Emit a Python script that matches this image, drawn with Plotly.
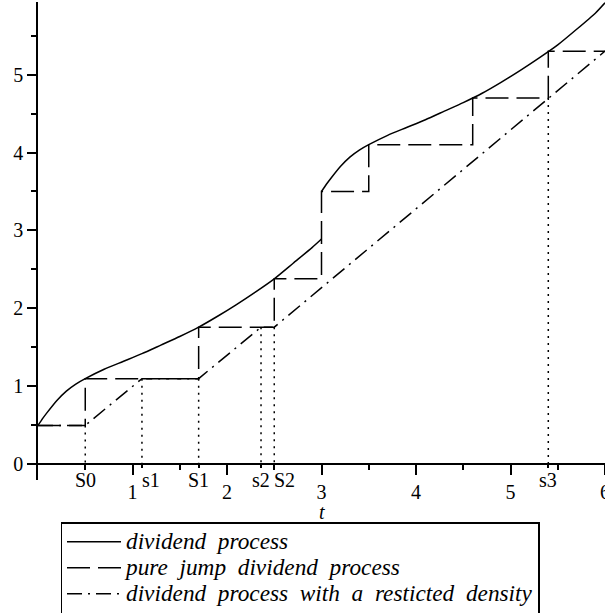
import plotly.graph_objects as go

# ---- data ----
# continuous dividend process, first piece (0 <= t < 3)
t_div1 = [0, 0.05, 0.1, 0.2, 0.3, 0.4, 0.5, 0.7, 0.9, 1.1, 1.3, 1.5, 1.7, 1.9, 2.1, 2.3, 2.5, 2.7, 2.9, 3.0]
d_div1 = [0.50, 0.59, 0.67, 0.82, 0.94, 1.03, 1.10, 1.22, 1.32, 1.42, 1.53, 1.64, 1.76, 1.90, 2.05, 2.21, 2.38, 2.58, 2.78, 2.89]
# second piece (3 <= t <= 6)
t_div2 = [3.0, 3.05, 3.1, 3.2, 3.3, 3.4, 3.5, 3.7, 3.9, 4.1, 4.3, 4.5, 4.7, 4.9, 5.1, 5.3, 5.5, 5.7, 5.9, 6.0]
d_div2 = [3.50, 3.59, 3.67, 3.82, 3.94, 4.03, 4.10, 4.22, 4.32, 4.42, 4.53, 4.64, 4.76, 4.90, 5.05, 5.21, 5.38, 5.58, 5.79, 5.92]

# pure jump dividend process (step path)
t_jump = [0, 0.5, 0.5, 1.7, 1.7, 2.5, 2.5, 3.0, 3.0, 3.5, 3.5, 4.6, 4.6, 5.4, 5.4, 6.0]
d_jump = [0.5, 0.5, 1.1, 1.1, 1.76, 1.76, 2.38, 2.38, 3.5, 3.5, 4.1, 4.1, 4.7, 4.7, 5.3, 5.3]

# dividend process with a restricted density
t_rd = [0, 0.5, 1.1, 1.7, 2.36, 2.5, 6.0]
d_rd = [0.5, 0.5, 1.1, 1.1, 1.76, 1.76, 5.3]

# special times marked on the t axis, with the level where the dotted drop starts
mark_t = [0.5, 1.1, 1.7, 2.36, 2.5, 5.4]
mark_level = [0.5, 1.1, 1.1, 1.76, 1.76, 4.7]
mark_labels = ["S0", "s1", "S1", "s2", "S2", "s3"]

x_ticks = [1, 2, 3, 4, 5, 6]
x_tick_labels = ["1", "2", "3", "4", "5", "6"]
y_ticks = [0, 1, 2, 3, 4, 5]
y_tick_labels = ["0", "1", "2", "3", "4", "5"]

series_names = ["dividend process", "pure jump dividend process",
                "dividend process with a resticted density"]

# ---- figure ----
SP = "\u2002"
FONT = "Liberation Serif"
LEG_TEXT_PX = 23.3


def legend_label(s):
    return '<span style="font-size:%spx">%s</span>' % (LEG_TEXT_PX, SP.join(s.split(" ")))


fig = go.Figure()

# continuous process: two pieces joined by None (jump at t=3)
fig.add_trace(go.Scatter(
    x=t_div1 + [None] + t_div2, y=d_div1 + [None] + d_div2,
    mode="lines", line=dict(color="black", width=1.5, shape="spline", smoothing=0.6),
    name=legend_label(series_names[0]), connectgaps=False))

fig.add_trace(go.Scatter(
    x=t_jump, y=d_jump, mode="lines",
    line=dict(color="black", width=1.5, dash="23px,8px"),
    name=legend_label(series_names[1])))

fig.add_trace(go.Scatter(
    x=t_rd, y=d_rd, mode="lines",
    line=dict(color="black", width=1.5, dash="15px,6px,2px,6px"),
    name=legend_label(series_names[2])))

# dotted drop lines to the t axis
dx, dy = [], []
for tt, lv in zip(mark_t, mark_level):
    dx += [tt, tt, None]
    dy += [lv, 0, None]
fig.add_trace(go.Scatter(x=dx, y=dy, mode="lines", showlegend=False,
                         line=dict(color="black", width=1.5, dash="2px,5px"),
                         hoverinfo="skip"))

# labels of the special times
shift = {"s1": 9, "S2": 10}
for tt, lab in zip(mark_t, mark_labels):
    fig.add_annotation(x=tt, y=0, xref="x", yref="y", text=lab, showarrow=False,
                       yanchor="middle", yshift=-16, xshift=shift.get(lab, 0),
                       font=dict(family=FONT, size=20, color="black"))

fig.add_annotation(x=3, y=0, xref="x", yref="y", text="t", showarrow=False,
                   yanchor="middle", yshift=-48,
                   font=dict(family=FONT, size=20, color="black", style="italic"))

Y0, Y1 = -0.2, 5.93
xpos = (0 - Y0) / (Y1 - Y0)

fig.update_layout(
    template="none",
    width=605, height=613,
    margin=dict(l=38, r=0, t=2, b=133, autoexpand=False),
    paper_bgcolor="white", plot_bgcolor="white",
    font=dict(family=FONT, size=20, color="black"),
    xaxis=dict(range=[0, 6], anchor="free", position=xpos, automargin=False,
               showline=True, linecolor="black", linewidth=1.5,
               showgrid=False, zeroline=False, ticklabeloverflow="allow",
               tickmode="array", tickvals=x_ticks, ticktext=x_tick_labels,
               ticks="outside", ticklen=10, tickwidth=1.5, tickcolor="black",
               minor=dict(tickvals=[0.5, 1.5, 2.5, 3.5, 4.5, 5.5], ticks="outside",
                          ticklen=5, tickwidth=1.5, tickcolor="black", showgrid=False),
               tickfont=dict(family=FONT, size=20, color="black")),
    xaxis2=dict(range=[0, 6], overlaying="x", anchor="free", position=xpos, automargin=False,
                showline=False, showgrid=False, zeroline=False,
                tickmode="array", tickvals=mark_t, showticklabels=False,
                ticks="outside", ticklen=3, tickwidth=1.5, tickcolor="black"),
    yaxis=dict(range=[Y0, Y1], automargin=False,
               showline=True, linecolor="black", linewidth=1.5,
               showgrid=False, zeroline=False,
               tickmode="array", tickvals=y_ticks, ticktext=y_tick_labels,
               ticks="outside", ticklen=9, tickwidth=1.5, tickcolor="black",
               minor=dict(tickvals=[0.5, 1.5, 2.5, 3.5, 4.5, 5.5], ticks="outside",
                          ticklen=5, tickwidth=1.5, tickcolor="black", showgrid=False),
               tickfont=dict(family=FONT, size=20, color="black")),
    showlegend=True,
    legend=dict(x=(60.5 - 38) / 567, y=(480 - 522.3) / 478, xanchor="left", yanchor="top",
                bordercolor="black", borderwidth=1.5, bgcolor="white",
                itemwidth=54, tracegroupgap=0,
                font=dict(family=FONT, size=17.7, color="black", style="italic")),
)
# dummy trace to activate xaxis2 for the marker ticks
fig.add_trace(go.Scatter(x=[None], y=[None], xaxis="x2", showlegend=False, hoverinfo="skip"))

fig.write_html("out.html", config={"displayModeBar": False},
               post_script="document.body.style.margin='0';document.body.style.padding='0';")
